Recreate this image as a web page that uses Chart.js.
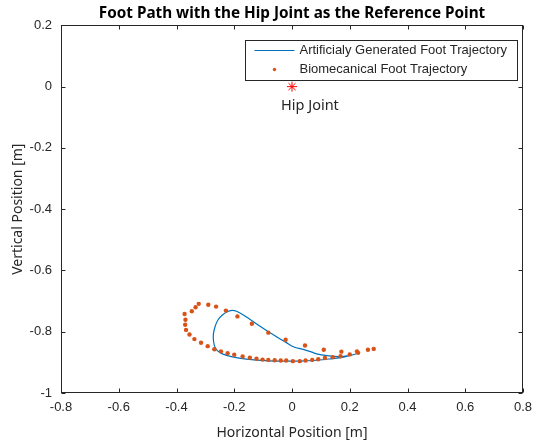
<!DOCTYPE html>
<html>
<head>
<meta charset="utf-8">
<script src="https://cdn.jsdelivr.net/npm/chart.js@4.4.1/dist/chart.umd.min.js"></script>
<style>
  html, body { margin: 0; padding: 0; background: #fff; }
  #wrap { width: 535px; height: 443px; }
</style>
</head>
<body>
<div id="wrap"><canvas id="footChart" width="535" height="443"></canvas></div>
<script>
// tick labels
var xTicks = [-0.8, -0.6, -0.4, -0.2, 0, 0.2, 0.4, 0.6, 0.8];
var yTicks = [-1, -0.8, -0.6, -0.4, -0.2, 0, 0.2];

// biomechanical foot trajectory (dots)
var bioX = [0.283, 0.263, 0.229, 0.200, 0.168, 0.141, 0.114, 0.091, 0.070, 0.047, 0.027, 0.003,
            -0.020, -0.039, -0.060, -0.082, -0.102, -0.123, -0.146, -0.171, -0.200, -0.223, -0.246,
            -0.269, -0.292, -0.315, -0.338, -0.355, -0.367, -0.370, -0.369, -0.372, -0.347, -0.334,
            -0.323, -0.290, -0.263, -0.229, -0.189, -0.139, -0.082, -0.022, 0.045, 0.110, 0.171, 0.225];
var bioY = [-0.856, -0.859, -0.869, -0.874, -0.880, -0.883, -0.886, -0.890, -0.892, -0.894, -0.896, -0.896,
            -0.894, -0.894, -0.893, -0.892, -0.891, -0.888, -0.885, -0.881, -0.875, -0.870, -0.864,
            -0.857, -0.847, -0.836, -0.824, -0.809, -0.794, -0.777, -0.761, -0.742, -0.733, -0.720,
            -0.709, -0.712, -0.718, -0.731, -0.750, -0.774, -0.803, -0.826, -0.845, -0.859, -0.865, -0.864];

// artificially generated foot trajectory (line)
var artX = [0.224, 0.179, 0.128, 0.076, 0.024, -0.028, -0.079, -0.131, -0.183, -0.224, -0.250, -0.266,
            -0.272, -0.272, -0.266, -0.256, -0.239, -0.222, -0.206, -0.190, -0.167, -0.137, -0.108,
            -0.079, -0.051, -0.022, 0.007, 0.036, 0.066, 0.093, 0.128, 0.162, 0.197, 0.224];
var artY = [-0.872, -0.883, -0.889, -0.894, -0.896, -0.896, -0.895, -0.892, -0.886, -0.878, -0.868, -0.852,
            -0.829, -0.806, -0.782, -0.761, -0.744, -0.734, -0.730, -0.734, -0.746, -0.765, -0.784,
            -0.802, -0.818, -0.834, -0.850, -0.857, -0.866, -0.874, -0.879, -0.881, -0.878, -0.872];

// reference point
var hipX = [0];
var hipY = [0];

var blue = '#0072BD';
var orange = '#D95319';
var axisColor = '#262626';

function pts(xs, ys) {
    return xs.map(function (v, i) { return {x: v, y: ys[i]}; });
}

// box round the axes with inward ticks on all four sides, legend and hip label
var matlabAxes = {
    id: 'matlabAxes',
    afterDatasetsDraw: function (chart) {
        var ctx = chart.ctx;
        var a = chart.chartArea;
        var xs = chart.scales.x, ys = chart.scales.y;
        var L = Math.round(a.left) + 0.5, R = Math.round(a.right) - 0.5;
        var T = Math.round(a.top) + 0.5, B = Math.round(a.bottom) - 0.5;
        ctx.save();
        ctx.strokeStyle = axisColor;
        ctx.lineWidth = 1;
        ctx.beginPath();
        xTicks.forEach(function (v) {
            var px = Math.round(xs.getPixelForValue(v)) + 0.5;
            ctx.moveTo(px, B); ctx.lineTo(px, B - 4);
            ctx.moveTo(px, T); ctx.lineTo(px, T + 4);
        });
        yTicks.forEach(function (v) {
            var py = Math.round(ys.getPixelForValue(v)) + 0.5;
            ctx.moveTo(L, py); ctx.lineTo(L + 4, py);
            ctx.moveTo(R, py); ctx.lineTo(R - 4, py);
        });
        ctx.stroke();
        ctx.strokeRect(L, T, R - L, B - T);

        // hip joint label
        ctx.fillStyle = axisColor;
        ctx.font = '14.5px "Noto Sans"';
        ctx.textAlign = 'left';
        ctx.textBaseline = 'middle';
        ctx.fillText('Hip Joint', xs.getPixelForValue(hipX[0]) - 11, ys.getPixelForValue(hipY[0]) + 19);

        // legend
        var lx = R - 6, ly = T + 14;
        var lw = 272, lh = 40;
        ctx.fillStyle = '#fff';
        ctx.fillRect(lx - lw, ly, lw, lh);
        ctx.strokeStyle = axisColor;
        ctx.strokeRect(Math.round(lx - lw) + 0.5, Math.round(ly) + 0.5, lw, lh);
        ctx.strokeStyle = blue;
        ctx.lineWidth = 1.2;
        ctx.beginPath();
        ctx.moveTo(lx - lw + 10, ly + 11);
        ctx.lineTo(lx - lw + 50, ly + 11);
        ctx.stroke();
        ctx.fillStyle = orange;
        ctx.beginPath();
        ctx.arc(lx - lw + 30, ly + 30, 1.7, 0, Math.PI * 2);
        ctx.fill();
        ctx.fillStyle = axisColor;
        ctx.font = '13px "Liberation Sans", Arial, sans-serif';
        ctx.fillText('Artificialy Generated Foot Trajectory', lx - lw + 55, ly + 11);
        ctx.fillText('Biomecanical Foot Trajectory', lx - lw + 55, ly + 30);
        ctx.restore();
    }
};

function fixedTicks(list) {
    return function (scale) {
        scale.ticks = list.map(function (v) { return {value: v}; });
    };
}

new Chart(document.getElementById('footChart').getContext('2d'), {
    type: 'scatter',
    data: {
        datasets: [
            {
                label: 'Biomecanical Foot Trajectory',
                data: pts(bioX, bioY),
                pointRadius: 2.2,
                pointBackgroundColor: orange,
                pointBorderWidth: 0,
                showLine: false,
                order: 0
            },
            {
                label: 'Artificialy Generated Foot Trajectory',
                data: pts(artX, artY),
                showLine: true,
                borderColor: blue,
                borderWidth: 1.2,
                pointRadius: 0,
                tension: 0.35,
                fill: false,
                order: 1
            },
            {
                label: 'Hip Joint',
                data: pts(hipX, hipY),
                pointStyle: 'star',
                pointRadius: 5,
                borderColor: '#FF0000',
                pointBorderWidth: 1,
                order: 0
            }
        ]
    },
    options: {
        responsive: false,
        animation: false,
        layout: { padding: { right: 12, left: 0, top: 0, bottom: 0 } },
        plugins: {
            legend: { display: false },
            tooltip: { enabled: false },
            title: {
                display: true,
                fullSize: false,
                text: 'Foot Path with the Hip Joint as the Reference Point',
                color: '#000',
                font: { family: '"Noto Sans"', size: 15.3, weight: 'bold', lineHeight: 1.2 },
                padding: { top: 4, bottom: 3 }
            }
        },
        scales: {
            x: {
                type: 'linear',
                min: -0.8,
                max: 0.8,
                afterBuildTicks: fixedTicks(xTicks),
                afterFit: function (s) { s.height = 50; s.paddingRight = 0; s.paddingLeft = 0; },
                grid: { display: false, drawTicks: false },
                border: { display: false },
                ticks: {
                    color: axisColor,
                    padding: 7,
                    maxRotation: 0,
                    font: { family: '"Liberation Sans", Arial, sans-serif', size: 13 },
                    callback: function (v) { return String(Math.round(v * 10) / 10); }
                },
                title: {
                    display: true,
                    text: 'Horizontal Position [m]',
                    color: axisColor,
                    font: { family: '"Noto Sans"', size: 14 },
                    padding: { top: 0, bottom: 2 }
                }
            },
            y: {
                type: 'linear',
                min: -1,
                max: 0.2,
                afterBuildTicks: fixedTicks(yTicks),
                afterFit: function (s) { s.width = 61; s.paddingTop = 0; s.paddingBottom = 0; },
                grid: { display: false, drawTicks: false },
                border: { display: false },
                ticks: {
                    color: axisColor,
                    padding: 9,
                    font: { family: '"Liberation Sans", Arial, sans-serif', size: 13 },
                    callback: function (v) { return String(Math.round(v * 10) / 10); }
                },
                title: {
                    display: true,
                    text: 'Vertical Position [m]',
                    color: axisColor,
                    font: { family: '"Noto Sans"', size: 14 },
                    padding: { top: 10, bottom: 0 }
                }
            }
        }
    },
    plugins: [matlabAxes]
});
</script>
</body>
</html>
